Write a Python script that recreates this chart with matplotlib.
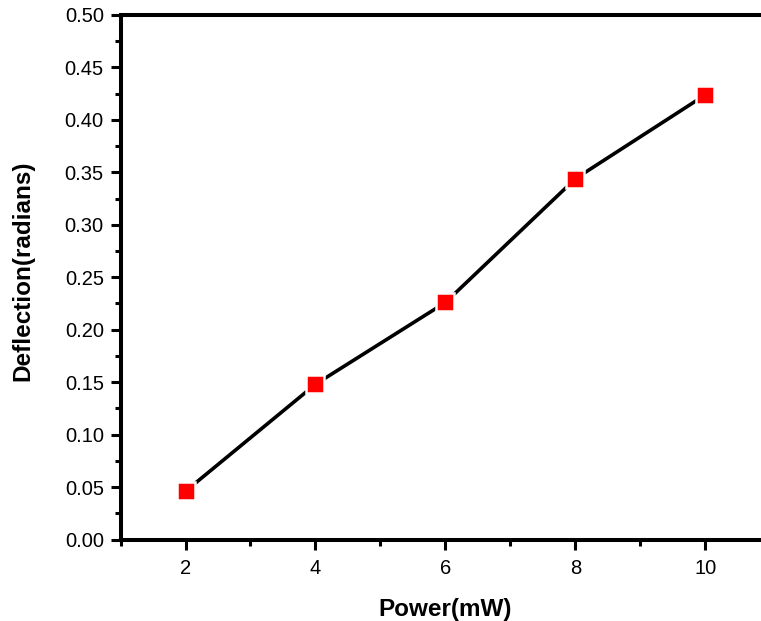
import matplotlib
matplotlib.use("Agg")
import matplotlib.pyplot as plt
from matplotlib.ticker import MultipleLocator, FormatStrFormatter

# Measured beam deflection versus laser power
power_mw = [2, 4, 6, 8, 10]
deflection_rad = [0.046, 0.148, 0.226, 0.344, 0.424]

plt.rcParams['font.family'] = ['Liberation Sans', 'DejaVu Sans']

W, H = 761, 621
fig = plt.figure(figsize=(W / 100, H / 100), dpi=100)
left, bottom, top = 120.5, 81.5, 15.0
ax_h = H - bottom - top
ax = fig.add_axes([left / W, bottom / H, 650 / W, ax_h / H])

ax.plot(power_mw, deflection_rad, color='black', lw=2.6, zorder=2)
ax.plot(power_mw, deflection_rad, ls='none', marker='s', ms=12.8,
        mfc='#ff0000', mec='white', mew=1.8, zorder=3)

ax.set_xlim(1, 11)
ax.set_ylim(0, 0.5)
ax.xaxis.set_major_locator(MultipleLocator(2))
ax.xaxis.set_minor_locator(MultipleLocator(1))
ax.yaxis.set_major_locator(MultipleLocator(0.05))
ax.yaxis.set_minor_locator(MultipleLocator(0.025))
ax.yaxis.set_major_formatter(FormatStrFormatter('%.2f'))
ax.set_xticks([2, 4, 6, 8, 10])

for s in ax.spines.values():
    s.set_linewidth(2.9)
ax.spines['right'].set_visible(False)

ax.tick_params(which='major', direction='out', length=7.5, width=2.2,
               labelsize=14.5, color='black')
ax.tick_params(axis='x', which='major', pad=6.5)
ax.tick_params(axis='y', which='major', pad=4.5)
ax.tick_params(which='minor', direction='out', length=4.5, width=2.2,
               color='black')
ax.tick_params(top=False, right=False, which='both')

ax.set_xlabel('Power(mW)', fontsize=17.5, fontweight='bold', labelpad=14.5)
ax.set_ylabel('Deflection(radians)', fontsize=17.5, fontweight='bold')
ax.yaxis.set_label_coords((34 - left) / 650, (539.5 - 271) / ax_h)

fig.savefig('out.png', dpi=100)
